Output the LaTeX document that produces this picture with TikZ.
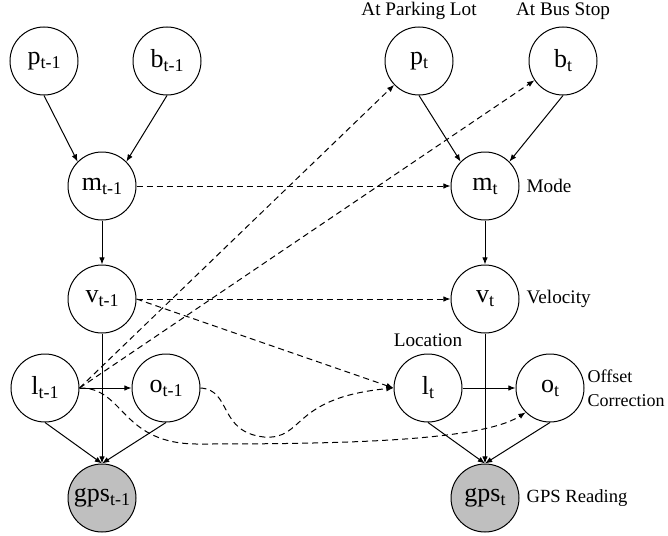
\documentclass[tikz,border=0pt]{standalone}
\usepackage{fontspec}
\setmainfont{Liberation Serif}
\usepackage{tikz}
\usetikzlibrary{arrows.meta}
\usetikzlibrary{positioning}

\newcommand{\nsub}[1]{\raisebox{-2pt}{\fontsize{9}{10}\selectfont #1}}

\begin{document}
\begin{tikzpicture}[x=0.5pt,y=-0.5pt,>={Latex[length=3.6pt,width=2.8pt]},line width=0.5pt,
  var/.style={draw,circle,minimum size=34pt,inner sep=0pt,font=\fontsize{13}{15}\selectfont},
  obs/.style={var,fill=black!25},
  every label/.style={font=\fontsize{9.6}{12}\selectfont},
  dep/.style={->},
  tdep/.style={->,dash pattern=on 3pt off 2pt}]
  \useasboundingbox (0,0) rectangle (668,535);

  % time slice t-1
  \node[var] (p1) at (44,61) {p\nsub{t-1}};
  \node[var] (b1) at (167,61) {b\nsub{t-1}};
  \node[var] (m1) at (102,186) {m\nsub{t-1}};
  \node[var] (v1) at (102,299) {v\nsub{t-1}};
  \node[var] (l1) at (45,388) {l\nsub{t-1}};
  \node[var] (o1) at (166,388) {o\nsub{t-1}};
  \node[obs] (g1) at (102,498) {gps\nsub{t-1}};

  % time slice t
  \node[var] (p2) at (419,61)[label=above:At Parking Lot]{p\nsub{t}};
  \node[var] (b2) at (563,61)[label=above:At Bus Stop]{b\nsub{t}};
  \node[var] (m2) at (485,186)[label=right:Mode]{m\nsub{t}};
  \node[var] (v2) at (485,299)[label=right:Velocity]{v\nsub{t}};
  \node[var] (l2) at (428,388)[label=above:Location]{l\nsub{t}};
  \node[var] (o2) at (550,388)[label={[align=left,xshift=-2pt,font=\fontsize{9}{12}\selectfont]right:Offset\\Correction}]{o\nsub{t}};
  \node[obs] (g2) at (485,498)[label={[font=\fontsize{9.3}{12}\selectfont]right:GPS Reading}]{gps\nsub{t}};

  \draw[dep](p1.south)--(m1.north west);
  \draw[dep](b1.south)--(m1.north east);
  \draw[dep](m1)--(v1);
  \draw[dep](v1)--(g1.north);
  \draw[dep](l1)--(o1);
  \draw[dep](l1.south)--(g1.north);
  \draw[dep](o1.south)--(g1.north);

  \draw[dep](p2.south)--(m2.north west);
  \draw[dep](b2.south)--(m2.north east);
  \draw[dep](m2)--(v2);
  \draw[dep](v2)--(g2.north);
  \draw[dep](l2)--(o2);
  \draw[dep](l2.south)--(g2.north);
  \draw[dep](o2.south)--(g2.north);

  \draw[tdep](m1)--(m2);
  \draw[tdep](v1)--(v2);
  \draw[tdep](v1.east)--(l2.west);
  \draw[tdep](l1.east)--(p2);
  \draw[tdep](l1.east)--(b2);
  \draw[tdep](l1.east) .. controls (125,387) and (120,445) .. (200,444)
    .. controls (330,444) and (480,442) .. (o2.south west);
  \draw[tdep](o1.east) .. controls (232,390) and (218,432) .. (264,437)
    .. controls (305,440) and (290,398) .. (l2.west);
\end{tikzpicture}
\end{document}
